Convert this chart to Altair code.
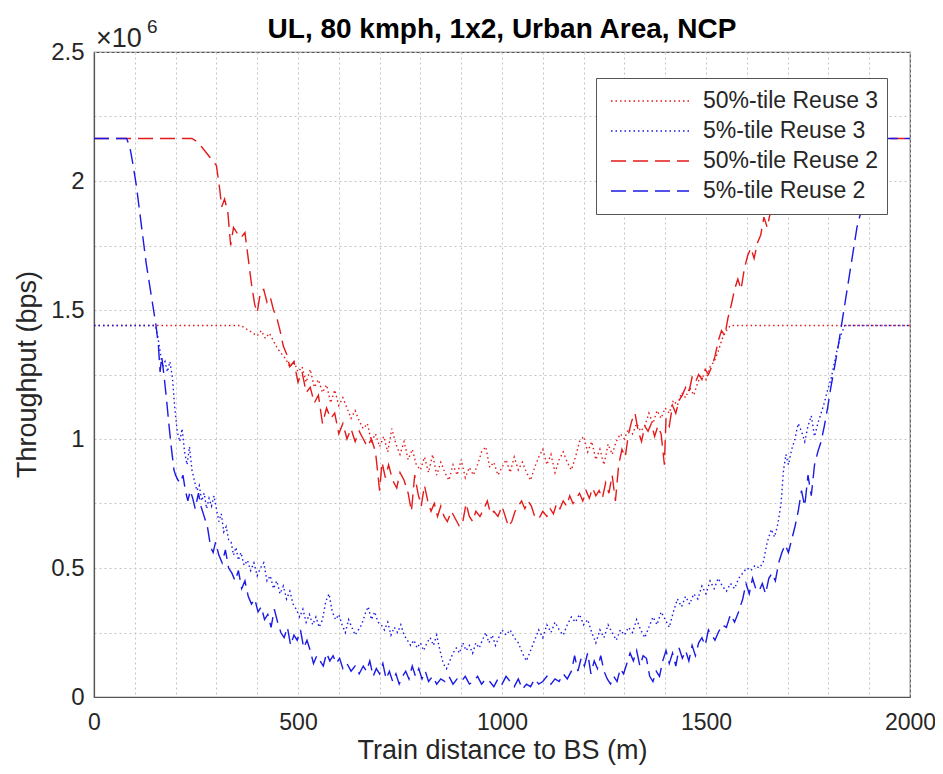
import altair as alt
import pandas as pd

# ---------------- data (throughput in units of 1e6 bps) ----------------
series_names = ["50%-tile Reuse 3", "5%-tile Reuse 3", "50%-tile Reuse 2", "5%-tile Reuse 2"]
series_colors = ["#e41a1a", "#1a1ae4", "#e41a1a", "#1a1ae4"]
series_dashes = [[1.5, 3], [1.5, 3], [15, 7], [15, 7]]

chart_title = "UL, 80 kmph, 1x2, Urban Area, NCP"
x_title = "Train distance to BS (m)"
y_title = "Throughput (bps)"

# 50%-tile Reuse 3 (red dotted)
r3_50_x = [0, 360, 370, 380, 390, 400, 410, 420, 430, 440, 450, 460, 470, 480, 490, 500, 510, 520, 530, 540,
           550, 560, 570, 580, 590, 600, 610, 620, 630, 640, 650, 660, 670, 680, 690, 700, 710, 720, 730, 740,
           750, 760, 770, 780, 790, 800, 810, 820, 830, 840, 850, 860, 870, 880, 890, 900, 910, 920, 930, 940,
           950, 960, 970, 980, 990, 1000, 1010, 1020, 1030, 1040, 1050, 1060, 1070, 1080, 1090, 1100, 1110, 1120,
           1130, 1140, 1150, 1160, 1170, 1180, 1190, 1200, 1210, 1220, 1230, 1240, 1250, 1260, 1270, 1280, 1290,
           1300, 1310, 1320, 1330, 1340, 1350, 1360, 1370, 1380, 1390, 1400, 1410, 1420, 1430, 1440, 1450, 1460,
           1470, 1480, 1490, 1500, 1510, 1520, 1530, 1540, 1550, 1560, 2000]
r3_50_y = [1.44, 1.44, 1.43, 1.42, 1.41, 1.40, 1.42, 1.39, 1.41, 1.38, 1.35, 1.33, 1.31, 1.28, 1.30, 1.26, 1.28, 1.22, 1.27, 1.20,
           1.23, 1.18, 1.21, 1.14, 1.19, 1.13, 1.16, 1.12, 1.08, 1.11, 1.07, 1.04, 1.06, 0.99, 1.02, 0.97, 1.01, 0.95, 1.04, 0.98,
           0.94, 0.99, 0.92, 0.96, 0.90, 0.88, 0.93, 0.87, 0.94, 0.86, 0.91, 0.87, 0.84, 0.90, 0.86, 0.92, 0.85, 0.89, 0.86, 0.90,
           0.95, 0.97, 0.89, 0.91, 0.86, 0.89, 0.92, 0.87, 0.93, 0.88, 0.91, 0.87, 0.84, 0.89, 0.93, 0.96, 0.90, 0.94,
           0.87, 0.92, 0.95, 0.91, 0.88, 0.93, 0.99, 1.01, 0.95, 0.99, 0.92, 0.96, 0.90, 0.98, 0.94, 0.99, 1.02,
           1.00, 1.04, 1.02, 1.06, 1.03, 1.05, 1.10, 1.06, 1.11, 1.08, 1.12, 1.10, 1.15, 1.13, 1.18, 1.16, 1.20,
           1.17, 1.22, 1.25, 1.23, 1.28, 1.30, 1.34, 1.39, 1.42, 1.44, 1.44]

# 5%-tile Reuse 3 (blue dotted)
r3_5_x = [0, 150, 156, 162, 168, 174, 180, 186, 192, 198, 204, 210, 216, 222, 228, 234, 240, 246, 252, 258,
          264, 270, 276, 282, 288, 294, 300, 306, 312, 318, 324, 330, 336, 342, 348, 354, 360, 368, 376, 384,
          392, 400, 408, 416, 424, 432, 440, 448, 456, 464, 472, 480, 488, 496, 504, 512, 520, 528, 536, 544,
          552, 560, 568, 576, 584, 592, 600, 608, 616, 624, 632, 640, 648, 656, 664, 672, 680, 688, 696, 704,
          712, 720, 728, 736, 744, 752, 760, 768, 776, 784, 792, 800, 808, 816, 824, 832, 840, 848, 856, 864,
          872, 880, 888, 896, 904, 912, 920, 928, 936, 944, 952, 960, 968, 976, 984, 992, 1000, 1010, 1020, 1030,
          1040, 1050, 1060, 1070, 1080, 1090, 1100, 1110, 1120, 1130, 1140, 1150, 1160, 1170, 1180, 1190, 1200,
          1210, 1220, 1230, 1240, 1250, 1260, 1270, 1280, 1290, 1300, 1310, 1320, 1330, 1340, 1350, 1360, 1370,
          1380, 1390, 1400, 1410, 1420, 1430, 1440, 1450, 1460, 1470, 1480, 1490, 1500, 1510, 1520, 1530, 1540,
          1550, 1560, 1570, 1580, 1590, 1600, 1610, 1620, 1630, 1640, 1650, 1660, 1668, 1676, 1684, 1690, 1696,
          1702, 1710, 1718, 1726, 1734, 1742, 1750, 1758, 1766, 1774, 1782, 1790, 1798, 1806, 1814, 1822, 1830,
          1840, 2000]
r3_5_y = [1.44, 1.44, 1.40, 1.34, 1.28, 1.30, 1.26, 1.30, 1.24, 1.12, 1.03, 0.99, 1.04, 0.95, 0.90, 0.97, 0.88, 0.84, 0.80, 0.82,
          0.76, 0.79, 0.73, 0.77, 0.74, 0.78, 0.73, 0.68, 0.71, 0.64, 0.66, 0.61, 0.60, 0.55, 0.58, 0.53, 0.56, 0.51, 0.53, 0.49,
          0.52, 0.47, 0.50, 0.52, 0.45, 0.47, 0.42, 0.45, 0.40, 0.43, 0.38, 0.41, 0.36, 0.34, 0.31, 0.34, 0.29, 0.32, 0.28, 0.31,
          0.27, 0.30, 0.37, 0.40, 0.33, 0.30, 0.32, 0.28, 0.25, 0.30, 0.27, 0.24, 0.26, 0.28, 0.32, 0.35, 0.30, 0.33, 0.29, 0.28,
          0.26, 0.29, 0.24, 0.27, 0.25, 0.28, 0.24, 0.22, 0.20, 0.22, 0.19, 0.21, 0.18, 0.21, 0.23, 0.20, 0.24, 0.18, 0.13, 0.11,
          0.14, 0.17, 0.19, 0.17, 0.21, 0.18, 0.20, 0.17, 0.21, 0.19, 0.22, 0.25, 0.21, 0.24, 0.20, 0.23, 0.26, 0.24, 0.26, 0.23,
          0.21, 0.17, 0.14, 0.18, 0.22, 0.26, 0.23, 0.28, 0.25, 0.29, 0.26, 0.24, 0.28, 0.31, 0.29, 0.32, 0.28,
          0.30, 0.25, 0.21, 0.26, 0.23, 0.28, 0.25, 0.22, 0.26, 0.24, 0.27, 0.25, 0.30, 0.26, 0.23, 0.27, 0.31,
          0.28, 0.33, 0.30, 0.27, 0.33, 0.38, 0.35, 0.39, 0.36, 0.40, 0.38, 0.43, 0.40, 0.45, 0.42, 0.46, 0.43,
          0.41, 0.44, 0.42, 0.46, 0.48, 0.50, 0.49, 0.51, 0.50, 0.52, 0.60, 0.65, 0.62, 0.67, 0.75, 0.88, 0.94,
          0.90, 0.96, 1.00, 1.06, 1.03, 0.99, 1.05, 1.09, 1.01, 1.06, 1.10, 1.14, 1.19, 1.23, 1.29, 1.35, 1.40,
          1.44, 1.44]

# 50%-tile Reuse 2 (red dashed)
r2_50_x = [0, 240, 255, 270, 285, 300, 308, 313, 320, 328, 335, 342, 350, 360, 370, 378, 386, 394, 400, 408,
           416, 424, 432, 440, 448, 456, 464, 472, 480, 490, 500, 510, 520, 530, 540, 550, 560, 570, 580, 590,
           600, 610, 620, 630, 640, 650, 660, 670, 680, 690, 700, 706, 714, 722, 732, 742, 750, 760, 770, 778,
           786, 794, 802, 810, 818, 826, 834, 842, 850, 858, 866, 876, 886, 896, 904, 912, 920, 928, 936, 946,
           956, 964, 972, 980, 990, 1000, 1008, 1016, 1024, 1032, 1040, 1048, 1056, 1064, 1072, 1080, 1090, 1100,
           1110, 1118, 1126, 1134, 1142, 1150, 1158, 1166, 1174, 1182, 1190, 1198, 1206, 1214, 1222, 1230, 1238,
           1246, 1254, 1262, 1270, 1278, 1286, 1294, 1302, 1310, 1318, 1326, 1334, 1342, 1350, 1358, 1366, 1374,
           1382, 1390, 1398, 1402, 1410, 1418, 1426, 1434, 1442, 1450, 1458, 1466, 1474, 1482, 1490, 1498, 1506,
           1514, 1522, 1530, 1538, 1546, 1554, 1562, 1570, 1578, 1586, 1594, 1602, 1610, 1618, 1626, 1634, 1642,
           1650, 1658, 1666, 1674, 1690, 1710, 1730, 1750, 2000]
r2_50_y = [2.165, 2.165, 2.15, 2.12, 2.09, 2.06, 1.97, 1.90, 1.93, 1.88, 1.75, 1.82, 1.80, 1.78, 1.80, 1.70, 1.60, 1.52, 1.49, 1.57,
           1.58, 1.53, 1.55, 1.50, 1.47, 1.42, 1.36, 1.33, 1.28, 1.30, 1.22, 1.26, 1.18, 1.20, 1.14, 1.17, 1.06, 1.12, 1.08, 1.10,
           1.02, 1.06, 1.00, 1.04, 0.99, 1.03, 1.00, 0.97, 1.00, 0.95, 0.80, 0.91, 0.85, 0.90, 0.84, 0.81, 0.87, 0.84, 0.79, 0.72,
           0.86, 0.79, 0.74, 0.82, 0.76, 0.72, 0.75, 0.70, 0.74, 0.70, 0.68, 0.72, 0.69, 0.66, 0.68, 0.75, 0.70, 0.68, 0.72, 0.70,
           0.73, 0.76, 0.71, 0.72, 0.70, 0.74, 0.70, 0.66, 0.68, 0.72, 0.74, 0.76, 0.73, 0.76, 0.74, 0.70, 0.69, 0.72,
           0.70, 0.73, 0.71, 0.75, 0.73, 0.76, 0.74, 0.78, 0.75, 0.77, 0.79, 0.76, 0.80, 0.77, 0.81, 0.78, 0.80,
           0.77, 0.83, 0.79, 0.86, 0.76, 0.90, 0.96, 0.93, 1.02, 1.07, 1.10, 1.03, 0.99, 1.05, 1.03, 1.06, 1.01,
           1.05, 1.02, 0.90, 1.08, 1.05, 1.13, 1.10, 1.15, 1.17, 1.20, 1.18, 1.24, 1.22, 1.25, 1.23, 1.27, 1.25,
           1.28, 1.32, 1.38, 1.42, 1.40, 1.47, 1.52, 1.58, 1.62, 1.58, 1.66, 1.71, 1.74, 1.70, 1.76, 1.79, 1.86,
           1.82, 1.88, 1.93, 1.97, 2.04, 2.10, 2.14, 2.165, 2.165]

# 5%-tile Reuse 2 (blue dashed)
r2_5_x = [0, 80, 88, 96, 104, 112, 120, 128, 136, 144, 152, 158, 162, 166, 172, 178, 184, 190, 196, 200,
          206, 212, 218, 224, 230, 236, 242, 248, 256, 262, 270, 278, 286, 292, 298, 306, 314, 322, 330, 338,
          346, 354, 362, 370, 378, 386, 394, 402, 410, 418, 426, 434, 442, 450, 458, 466, 474, 482, 490, 498,
          506, 514, 522, 530, 538, 546, 554, 562, 570, 578, 586, 594, 602, 610, 620, 630, 640, 650, 660, 668,
          676, 684, 692, 700, 708, 716, 724, 732, 740, 748, 756, 764, 772, 780, 788, 796, 804, 812, 820, 830,
          840, 850, 860, 870, 880, 890, 900, 910, 920, 930, 940, 950, 960, 970, 980, 990, 1000, 1010, 1020, 1030,
          1040, 1050, 1060, 1070, 1080, 1090, 1100, 1110, 1120, 1130, 1140, 1150, 1160, 1170, 1178, 1186, 1194,
          1202, 1210, 1218, 1226, 1234, 1242, 1250, 1258, 1266, 1274, 1282, 1290, 1298, 1306, 1314, 1322, 1330,
          1338, 1346, 1354, 1362, 1370, 1378, 1386, 1394, 1402, 1410, 1418, 1426, 1434, 1442, 1450, 1458, 1466,
          1474, 1482, 1490, 1498, 1506, 1514, 1522, 1530, 1540, 1550, 1560, 1570, 1580, 1590, 1598, 1606, 1614,
          1622, 1630, 1638, 1646, 1654, 1662, 1670, 1678, 1686, 1694, 1702, 1710, 1718, 1726, 1734, 1742, 1750,
          1758, 1766, 1774, 1782, 1790, 1798, 1806, 1814, 1822, 1830, 1838, 1846, 1854, 1862, 1870, 1878, 1890,
          1900, 1910, 1920, 2000]
r2_5_y = [2.165, 2.165, 2.13, 2.06, 1.98, 1.88, 1.78, 1.68, 1.60, 1.52, 1.44, 1.36, 1.26, 1.32, 1.24, 1.15, 1.05, 0.96, 0.88, 0.86,
          0.84, 0.83, 0.86, 0.80, 0.76, 0.80, 0.77, 0.73, 0.79, 0.74, 0.70, 0.66, 0.58, 0.56, 0.60, 0.55, 0.52, 0.57, 0.50, 0.48,
          0.45, 0.49, 0.42, 0.45, 0.39, 0.36, 0.38, 0.33, 0.35, 0.30, 0.32, 0.27, 0.34, 0.29, 0.25, 0.23, 0.27, 0.20, 0.24, 0.22,
          0.26, 0.19, 0.22, 0.18, 0.13, 0.16, 0.14, 0.12, 0.17, 0.14, 0.16, 0.13, 0.15, 0.11, 0.13, 0.10, 0.12, 0.09, 0.12, 0.10,
          0.14, 0.08, 0.11, 0.09, 0.13, 0.07, 0.10, 0.06, 0.09, 0.05, 0.08, 0.10, 0.07, 0.12, 0.08, 0.11, 0.07, 0.10, 0.06, 0.08,
          0.05, 0.07, 0.06, 0.08, 0.05, 0.07, 0.06, 0.08, 0.05, 0.06, 0.08, 0.05, 0.07, 0.06, 0.04, 0.07, 0.05, 0.08, 0.06, 0.04,
          0.07, 0.03, 0.05, 0.04, 0.07, 0.05, 0.06, 0.08, 0.05, 0.07, 0.06, 0.09, 0.07, 0.10, 0.16, 0.10, 0.15,
          0.12, 0.17, 0.09, 0.14, 0.11, 0.16, 0.10, 0.07, 0.05, 0.08, 0.06, 0.11, 0.09, 0.13, 0.17, 0.14, 0.18,
          0.12, 0.16, 0.15, 0.08, 0.06, 0.10, 0.08, 0.14, 0.18, 0.13, 0.17, 0.12, 0.19, 0.15, 0.18, 0.14, 0.20,
          0.16, 0.21, 0.23, 0.20, 0.26, 0.24, 0.22, 0.25, 0.28, 0.27, 0.32, 0.29, 0.33, 0.38, 0.44, 0.40, 0.46,
          0.42, 0.41, 0.44, 0.40, 0.46, 0.48, 0.45, 0.52, 0.56, 0.59, 0.56, 0.61, 0.66, 0.72, 0.80, 0.74, 0.86,
          0.78, 0.90, 0.95, 0.99, 1.05, 1.12, 1.20, 1.27, 1.34, 1.42, 1.50, 1.58, 1.66, 1.74, 1.82, 1.87, 1.96,
          2.06, 2.14, 2.165, 2.165]

all_x = [r3_50_x, r3_5_x, r2_50_x, r2_5_x]
all_y = [r3_50_y, r3_5_y, r2_50_y, r2_5_y]

frames = []
for name, xs, ys in zip(series_names, all_x, all_y):
    frames.append(pd.DataFrame({"x": xs, "y": ys, "series": name, "i": range(len(xs))}))
df = pd.concat(frames, ignore_index=True)

FONT = "Liberation Sans"
TXT = "#262626"

x_grid_vals = list(range(0, 2001, 100))
y_grid_vals = [k * 0.125 for k in range(0, 21)]

x_enc = alt.X(
    "x:Q",
    scale=alt.Scale(domain=[0, 2000], nice=False, zero=False),
    axis=alt.Axis(
        title=x_title,
        values=x_grid_vals,
        labelExpr="datum.value % 500 == 0 ? format(datum.value, 'd') : ''",
        labelOverlap=False,
        labelFlush=False,
        ticks=False,
        tickSize=0,
        labelPadding=14,
        labelFontSize=23,
        labelFont=FONT,
        labelColor=TXT,
        titleFontSize=27,
        titleFont=FONT,
        titleFontWeight="normal",
        titleColor=TXT,
        titleBaseline="alphabetic",
        titleY=61,
        grid=True,
        gridColor="#c4c4c4",
        gridDash=[2, 3],
        gridWidth=1,
        domainColor="#555555",
        domainWidth=1.2,
    ),
)
y_enc = alt.Y(
    "y:Q",
    scale=alt.Scale(domain=[0, 2.5], nice=False, zero=True),
    axis=alt.Axis(
        title=y_title,
        values=y_grid_vals,
        labelExpr="datum.value % 0.5 == 0 ? format(datum.value, '~g') : ''",
        labelOverlap=False,
        labelFlush=False,
        ticks=False,
        tickSize=0,
        labelPadding=10,
        labelFontSize=24,
        labelFont=FONT,
        labelColor=TXT,
        titleFontSize=27,
        titleFont=FONT,
        titleFontWeight="normal",
        titleColor=TXT,
        titleBaseline="alphabetic",
        titleX=-59,
        titleY=322,
        titleAngle=270,
        grid=True,
        gridColor="#c4c4c4",
        gridDash=[2, 3],
        gridWidth=1,
        domainColor="#555555",
        domainWidth=1.2,
    ),
)

color_enc = alt.Color("series:N", scale=alt.Scale(domain=series_names, range=series_colors), title=None)
dash_enc = alt.StrokeDash("series:N", scale=alt.Scale(domain=series_names, range=series_dashes), title=None)

# one layer per series so that drawing order matches the reference (blue dashed on top)
line_layers = []
for name in series_names:
    line_layers.append(
        alt.Chart(df)
        .transform_filter(alt.datum.series == name)
        .mark_line(strokeWidth=1.4, strokeCap="butt")
        .encode(x=x_enc, y=y_enc, order="i:Q", color=color_enc, strokeDash=dash_enc)
    )

title_txt = alt.Chart(pd.DataFrame({"t": [chart_title]})).mark_text(
    align="center", baseline="alphabetic", fontSize=28, font=FONT, fontWeight="bold", color="#000000", dy=-14
).encode(x=alt.datum(1000), y=alt.datum(2.5), text="t:N")

exp_base = alt.Chart(pd.DataFrame({"t": ["×10"]})).mark_text(
    align="left", baseline="alphabetic", fontSize=27, font=FONT, color=TXT, dx=2, dy=-5
).encode(x=alt.datum(0), y=alt.datum(2.5), text="t:N")

exp_pow = alt.Chart(pd.DataFrame({"t": ["6"]})).mark_text(
    align="left", baseline="alphabetic", fontSize=19, font=FONT, color=TXT, dx=53, dy=-19
).encode(x=alt.datum(0), y=alt.datum(2.5), text="t:N")

chart = (
    alt.layer(*line_layers, title_txt, exp_base, exp_pow)
    .properties(
        width=816,
        height=645,
        autosize=alt.AutoSizeParams(type="none"),
        padding={"left": 86, "top": 44, "right": 25, "bottom": 68},
    )
    .configure_view(stroke="#555555", strokeWidth=1.2)
    .configure_legend(
        orient="none",
        legendX=502,
        legendY=26,
        symbolType="stroke",
        symbolSize=6084,
        symbolStrokeWidth=1.5,
        symbolOffset=6,
        labelOffset=13,
        clipHeight=30,
        rowPadding=0,
        padding=8,
        labelFontSize=23,
        labelFont=FONT,
        labelColor=TXT,
        labelLimit=400,
        fillColor="#ffffff",
        strokeColor="#555555",
        cornerRadius=0,
    )
)

chart.save("out.html", embed_options={"renderer": "svg", "actions": False})
